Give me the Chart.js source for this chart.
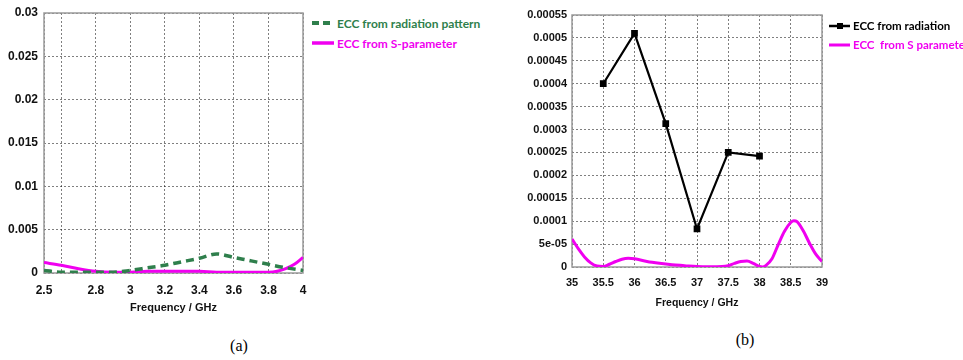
<!DOCTYPE html>
<html>
<head>
<meta charset="utf-8">
<script src="https://cdn.jsdelivr.net/npm/chart.js@4.4.0/dist/chart.umd.min.js"></script>
<style>
  body { margin: 0; background: #fff; width: 963px; height: 360px; position: relative; overflow: hidden; }
  canvas { position: absolute; top: 0; }
  #chartA { left: 0; }
  #chartB { left: 500px; }
  .legend { position: absolute; font-family: Lato, 'DejaVu Sans Condensed', sans-serif; font-weight: bold; white-space: nowrap; }
  .legend div { display: flex; align-items: center; }
  .legend svg { margin-right: 3px; }
  #legendA { left: 312px; top: 13px; font-size: 12px; }
  #legendA div { height: 20px; }
  #legendB { left: 829px; top: 16px; font-size: 11.5px; }
  #legendB div { height: 19px; }
  .caption { position: absolute; transform: translate(-50%, -50%); font-family: 'Liberation Serif', 'DejaVu Serif', serif; font-size: 16px; }
</style>
</head>
<body>
<canvas id="chartA" width="310" height="322"></canvas>
<canvas id="chartB" width="330" height="322"></canvas>

<div class="legend" id="legendA">
  <div style="color:#2f7f4c"><svg width="22" height="8"><line x1="0" y1="4" x2="22" y2="4" stroke="#2f7f4c" stroke-width="4" stroke-dasharray="7 4"/></svg>ECC from radiation pattern</div>
  <div style="color:#f000f0"><svg width="22" height="8"><line x1="0" y1="4" x2="22" y2="4" stroke="#f000f0" stroke-width="3.5"/></svg>ECC from S-parameter</div>
</div>
<div class="legend" id="legendB">
  <div style="color:#000"><svg width="21" height="8"><line x1="0" y1="4" x2="21" y2="4" stroke="#000" stroke-width="2.5"/><rect x="8" y="1" width="6" height="6" fill="#000"/></svg>ECC from radiation</div>
  <div style="color:#f000f0"><svg width="21" height="8"><line x1="0" y1="4" x2="21" y2="4" stroke="#f000f0" stroke-width="3"/></svg>ECC&nbsp; from S parameter</div>
</div>

<div class="caption" style="left:239px; top:346px">(a)</div>
<div class="caption" style="left:745px; top:340px">(b)</div>

<script>
// (a) 2.5 - 4 GHz band
const freqA = [2.5, 2.6, 2.7, 2.8, 2.9, 3.0, 3.1, 3.2, 3.3, 3.4, 3.5, 3.6, 3.7, 3.8, 3.9, 4.0];
const eccRadiationA = [0.0003, 0.0001, 0.0001, 0.0001, 0.0001, 0.0003, 0.0006, 0.0009, 0.0013, 0.0017, 0.0022, 0.0018, 0.0014, 0.001, 0.0006, 0.0003];
const freqSA = [2.5, 2.6, 2.7, 2.8, 2.9, 3.0, 3.1, 3.2, 3.3, 3.4, 3.5, 3.6, 3.7, 3.8, 3.85, 3.9, 3.95, 4.0];
const eccSParamA = [0.0012, 0.0009, 0.0005, 0.0002, 0.0001, 0.0001, 0.0002, 0.0002, 0.0002, 0.0002, 0.0001, 0.0001, 0.0001, 0.0001, 0.0002, 0.0005, 0.001, 0.0018];
const xTicksA = [2.5, 2.6, 2.8, 3, 3.2, 3.4, 3.6, 3.8, 4];
const xLabelsA = ['2.5', '', '2.8', '3', '3.2', '3.4', '3.6', '3.8', '4'];
const yTicksA = [0, 0.005, 0.01, 0.015, 0.02, 0.025, 0.03];
const yLabelsA = ['0', '0.005', '0.01', '0.015', '0.02', '0.025', '0.03'];

// (b) 35 - 39 GHz band
const freqB = [35.5, 36, 36.5, 37, 37.5, 38];
const eccRadiationB = [0.0004, 0.00051, 0.000313, 0.000083, 0.00025, 0.000242];
const freqSB = [35, 35.1, 35.2, 35.3, 35.4, 35.5, 35.6, 35.7, 35.8, 35.9, 36, 36.2, 36.4, 36.6, 36.8, 37, 37.2, 37.4, 37.5, 37.6, 37.7, 37.8, 37.9, 38, 38.05, 38.1, 38.2, 38.3, 38.4, 38.5, 38.55, 38.6, 38.7, 38.8, 38.9, 39];
const eccSParamB = [0.000061, 0.00004, 0.000022, 0.000009, 0.000002, 0.000001, 0.000006, 0.000012, 0.000017, 0.000019, 0.000018, 0.000012, 0.000008, 0.000005, 0.000003, 0.000001, 0.0000005, 0.000001, 0.000003, 0.000008, 0.000012, 0.000013, 0.000008, 0.000001, 0, 0.000003, 0.000018, 0.000049, 0.000078, 0.000097, 0.000101, 0.000099, 0.000079, 0.000052, 0.000028, 0.000012];
const xTicksB = [35, 35.5, 36, 36.5, 37, 37.5, 38, 38.5, 39];
const xLabelsB = ['35', '35.5', '36', '36.5', '37', '37.5', '38', '38.5', '39'];
const yTicksB = [0, 0.00005, 0.0001, 0.00015, 0.0002, 0.00025, 0.0003, 0.00035, 0.0004, 0.00045, 0.0005, 0.00055];
const yLabelsB = ['0', '5e-05', '0.0001', '0.00015', '0.0002', '0.00025', '0.0003', '0.00035', '0.0004', '0.00045', '0.0005', '0.00055'];

const FONT = "'Liberation Sans', Arial, sans-serif";

function toPoints(xs, ys) {
    return xs.map((x, i) => ({ x: x, y: ys[i] }));
}

// solid grey box round the plotting area
const plotFrame = {
    id: 'plotFrame',
    beforeDatasetsDraw(chart) {
        const { ctx, chartArea: a } = chart;
        ctx.save();
        ctx.strokeStyle = '#9a9a9a';
        ctx.lineWidth = 1.5;
        ctx.strokeRect(a.left, a.top, a.right - a.left, a.bottom - a.top);
        ctx.restore();
    }
};

function axes(cfg) {
    const grid = { color: 'rgba(0,0,0,0.5)', lineWidth: 1, drawTicks: false };
    const border = { display: false, dash: [2, 2] };
    const tickFont = { family: FONT, size: cfg.fontSize, weight: 'bold' };
    return {
        x: {
            type: 'linear',
            min: cfg.xTicks[0],
            max: cfg.xTicks[cfg.xTicks.length - 1],
            afterBuildTicks: scale => { scale.ticks = cfg.xTicks.map(v => ({ value: v })); },
            afterFit: scale => {
                scale.height = cfg.xHeight;
                scale.paddingLeft = 0;
                scale.paddingRight = 0;
            },
            grid: grid,
            border: border,
            ticks: {
                autoSkip: false, maxRotation: 0, padding: cfg.xPad, color: '#111',
                font: tickFont,
                callback: (value, index) => cfg.xLabels[index]
            },
            title: {
                display: true, text: 'Frequency / GHz', color: '#111',
                font: { family: FONT, size: cfg.titleSize, weight: 'bold' },
                padding: { top: 0, bottom: cfg.titlePad }
            }
        },
        y: {
            min: 0,
            max: cfg.yTicks[cfg.yTicks.length - 1],
            afterBuildTicks: scale => { scale.ticks = cfg.yTicks.map(v => ({ value: v })); },
            afterFit: scale => {
                scale.width = cfg.yWidth;
                scale.paddingTop = 0;
                scale.paddingBottom = 0;
            },
            grid: grid,
            border: border,
            ticks: {
                padding: cfg.yPad, color: '#111',
                font: tickFont,
                callback: (value, index) => cfg.yLabels[index]
            }
        }
    };
}

const common = {
    responsive: false,
    animation: false,
    devicePixelRatio: 1,
    plugins: { legend: { display: false }, tooltip: { enabled: false } }
};

new Chart(document.getElementById('chartA').getContext('2d'), {
    type: 'line',
    data: {
        datasets: [{
            label: 'ECC from radiation pattern',
            data: toPoints(freqA, eccRadiationA),
            borderColor: '#2f7f4c',
            borderWidth: 3.5,
            borderDash: [8, 5],
            pointRadius: 0,
            cubicInterpolationMode: 'monotone'
        }, {
            label: 'ECC from S-parameter',
            data: toPoints(freqSA, eccSParamA),
            borderColor: '#f000f0',
            borderWidth: 3,
            pointRadius: 0,
            cubicInterpolationMode: 'monotone'
        }]
    },
    options: Object.assign({}, common, {
        layout: { padding: { left: 0, top: 13, right: 7, bottom: 0 } },
        scales: axes({
            xTicks: xTicksA, xLabels: xLabelsA, yTicks: yTicksA, yLabels: yLabelsA,
            xHeight: 49, yWidth: 44, xPad: 10, yPad: 6, titlePad: 7, fontSize: 12, titleSize: 11
        })
    }),
    plugins: [plotFrame]
});

new Chart(document.getElementById('chartB').getContext('2d'), {
    type: 'line',
    data: {
        datasets: [{
            label: 'ECC from radiation',
            data: toPoints(freqB, eccRadiationB),
            borderColor: '#000',
            borderWidth: 2.2,
            pointStyle: 'rect',
            pointRadius: 3.2,
            pointBackgroundColor: '#000',
            pointBorderColor: '#000',
            tension: 0
        }, {
            label: 'ECC  from S parameter',
            data: toPoints(freqSB, eccSParamB),
            borderColor: '#f000f0',
            borderWidth: 3,
            pointRadius: 0,
            cubicInterpolationMode: 'monotone'
        }]
    },
    options: Object.assign({}, common, {
        layout: { padding: { left: 0, top: 15, right: 8, bottom: 0 } },
        scales: axes({
            xTicks: xTicksB, xLabels: xLabelsB, yTicks: yTicksB, yLabels: yLabelsB,
            xHeight: 55, yWidth: 72, xPad: 9, yPad: 5, titlePad: 13, fontSize: 11, titleSize: 10.5
        })
    }),
    plugins: [plotFrame]
});
</script>
</body>
</html>
